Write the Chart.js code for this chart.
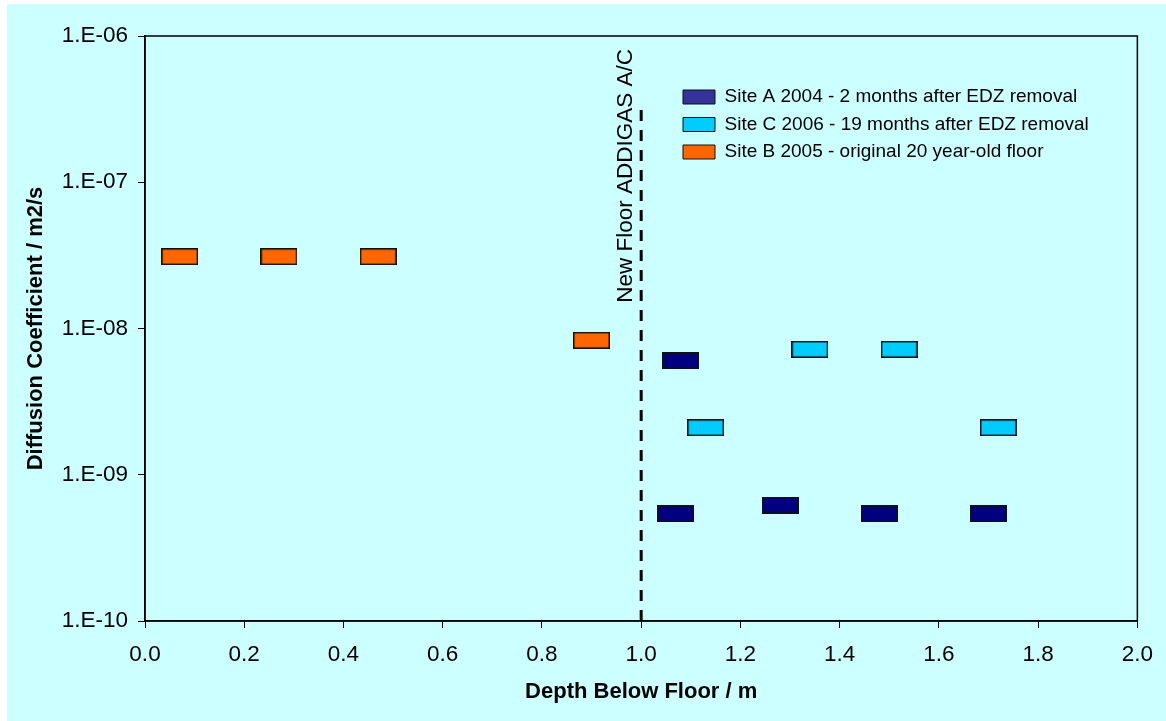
<!DOCTYPE html>
<html>
<head>
<meta charset="utf-8">
<script src="https://cdn.jsdelivr.net/npm/chart.js@4/dist/chart.umd.min.js"></script>
<style>
  html, body { margin: 0; padding: 0; background: #ffffff; }
  #wrap { position: absolute; left: 7px; top: 4px; width: 1159px; height: 717px; background: #ccffff; }
  canvas { display: block; }
</style>
</head>
<body>
<div id="wrap"><canvas id="chart" width="1159" height="717"></canvas></div>
<script>
// Depth below floor (m) and diffusion coefficient (m2/s) for each site campaign
const siteADepth = [1.08, 1.07, 1.28, 1.48, 1.70];
const siteADiff  = [6.0e-9, 5.4e-10, 6.2e-10, 5.4e-10, 5.4e-10];
const siteCDepth = [1.13, 1.34, 1.52, 1.72];
const siteCDiff  = [2.1e-9, 7.2e-9, 7.2e-9, 2.1e-9];
const siteBDepth = [0.07, 0.27, 0.47, 0.90];
const siteBDiff  = [3.1e-8, 3.1e-8, 3.1e-8, 8.3e-9];

const seriesLabels = [
  'Site A 2004 - 2 months after EDZ removal',
  'Site C 2006 - 19 months after EDZ removal',
  'Site B 2005 - original 20 year-old floor'
];

// Boundary of the new floor
const newFloorDepth = 1.0;
const newFloorSpan = [1e-10, 3.4e-7];
const newFloorLabel = 'New Floor ADDIGAS A/C';

// Axis ticks
const yTickValues = [1e-10, 1e-9, 1e-8, 1e-7, 1e-6];
const yTickLabels = ['1.E-10', '1.E-09', '1.E-08', '1.E-07', '1.E-06'];
const xTickValues = [0, 0.2, 0.4, 0.6, 0.8, 1.0, 1.2, 1.4, 1.6, 1.8, 2.0];
const xTickLabels = ['0.0', '0.2', '0.4', '0.6', '0.8', '1.0', '1.2', '1.4', '1.6', '1.8', '2.0'];

const FONT = '"Liberation Sans", Arial, sans-serif';
Chart.defaults.font.family = FONT;
Chart.defaults.color = '#000000';

// Flat rectangular marker used for every measurement
function barMarker(fill) {
  const c = document.createElement('canvas');
  c.width = 37; c.height = 17;
  const g = c.getContext('2d');
  g.fillStyle = fill;
  g.fillRect(0, 0, 37, 17);
  g.strokeStyle = '#111111';
  g.lineWidth = 1.5;
  g.strokeRect(0.75, 0.75, 35.5, 15.5);
  return c;
}

const pairs = (xs, ys) => xs.map((x, i) => ({ x: x, y: ys[i] }));

// Frame around the plotting area
const plotFrame = {
  id: 'plotFrame',
  beforeDatasetsDraw(chart) {
    const { ctx, chartArea: a } = chart;
    ctx.save();
    ctx.strokeStyle = '#000000';
    ctx.lineWidth = 1.5;
    ctx.strokeRect(a.left, a.top, a.right - a.left, a.bottom - a.top);
    ctx.restore();
  }
};

// Vertical caption beside the new-floor line
const floorCaption = {
  id: 'floorCaption',
  afterDatasetsDraw(chart) {
    const { ctx, chartArea, scales } = chart;
    const px = scales.x.getPixelForValue(newFloorDepth) - 15;
    ctx.save();
    ctx.translate(px, chartArea.top + 13);
    ctx.rotate(-Math.PI / 2);
    ctx.font = '22.5px ' + FONT;
    ctx.fillStyle = '#000000';
    ctx.textAlign = 'right';
    ctx.textBaseline = 'middle';
    ctx.fillText(newFloorLabel, 0, 0);
    ctx.restore();
  }
};

// Place the legend inside the plot, upper right
const legendInside = {
  id: 'legendInside',
  afterLayout(chart) {
    const lg = chart.legend;
    const a = chart.chartArea;
    const pad = chart.options.plugins.legend.labels.padding;
    lg.left = a.left + 538 - pad;
    lg.top = a.top + 51.5 - pad;
    lg.right = lg.left + 480;
    lg.bottom = lg.top + 140;
    lg.width = lg.right - lg.left;
    lg.height = lg.bottom - lg.top;
  }
};

new Chart(document.getElementById('chart'), {
  type: 'scatter',
  data: {
    datasets: [
      {
        label: seriesLabels[0],
        data: pairs(siteADepth, siteADiff),
        pointStyle: barMarker('#000080'),
        backgroundColor: '#333399',
        borderColor: '#111111',
        borderWidth: 1
      },
      {
        label: seriesLabels[1],
        data: pairs(siteCDepth, siteCDiff),
        pointStyle: barMarker('#00ccff'),
        backgroundColor: '#00ccff',
        borderColor: '#111111',
        borderWidth: 1
      },
      {
        label: seriesLabels[2],
        data: pairs(siteBDepth, siteBDiff),
        pointStyle: barMarker('#ff6600'),
        backgroundColor: '#ff6600',
        borderColor: '#111111',
        borderWidth: 1
      },
      {
        label: newFloorLabel,
        data: [{ x: newFloorDepth, y: newFloorSpan[0] }, { x: newFloorDepth, y: newFloorSpan[1] }],
        showLine: true,
        borderColor: '#000000',
        borderWidth: 3,
        borderDash: [11, 9],
        pointRadius: 0,
        fill: false
      }
    ]
  },
  options: {
    responsive: false,
    animation: false,
    devicePixelRatio: 1,
    events: [],
    layout: { padding: { left: 0, top: 32, right: 23, bottom: 0 } },
    plugins: {
      tooltip: { enabled: false },
      legend: {
        display: true,
        position: 'right',
        align: 'start',
        maxWidth: 1,
        labels: {
          boxWidth: 32,
          boxHeight: 14,
          padding: 8.5,
          color: '#000000',
          font: { size: 19, family: FONT },
          filter: (item) => item.datasetIndex < 3
        }
      }
    },
    scales: {
      x: {
        type: 'linear',
        min: 0,
        max: 2,
        afterBuildTicks: (s) => { s.ticks = xTickValues.map(v => ({ value: v })); },
        afterFit: (s) => { s.height = 100; },
        ticks: {
          padding: 13,
          font: { size: 22.5 },
          color: '#000000',
          callback: (v, i) => xTickLabels[i]
        },
        grid: { display: true, drawOnChartArea: false, drawTicks: true, tickLength: 7, color: '#000000', lineWidth: 1 },
        border: { display: true, color: '#000000', width: 1.5 },
        title: {
          display: true,
          text: 'Depth Below Floor / m',
          font: { size: 22, weight: 'bold' },
          color: '#000000',
          padding: { top: 0, bottom: 16 }
        }
      },
      y: {
        type: 'logarithmic',
        min: 1e-10,
        max: 1e-6,
        afterBuildTicks: (s) => { s.ticks = yTickValues.map(v => ({ value: v })); },
        afterFit: (s) => { s.width = 138; },
        ticks: {
          padding: 10,
          font: { size: 22.5 },
          color: '#000000',
          callback: (v, i) => yTickLabels[i]
        },
        grid: { display: true, drawOnChartArea: false, drawTicks: true, tickLength: 7, color: '#000000', lineWidth: 1 },
        border: { display: true, color: '#000000', width: 1.5 },
        title: {
          display: true,
          text: 'Diffusion Coefficient / m2/s',
          font: { size: 22, weight: 'bold' },
          color: '#000000',
          padding: { top: 16, bottom: 0 }
        }
      }
    }
  },
  plugins: [plotFrame, floorCaption, legendInside]
});
</script>
</body>
</html>
